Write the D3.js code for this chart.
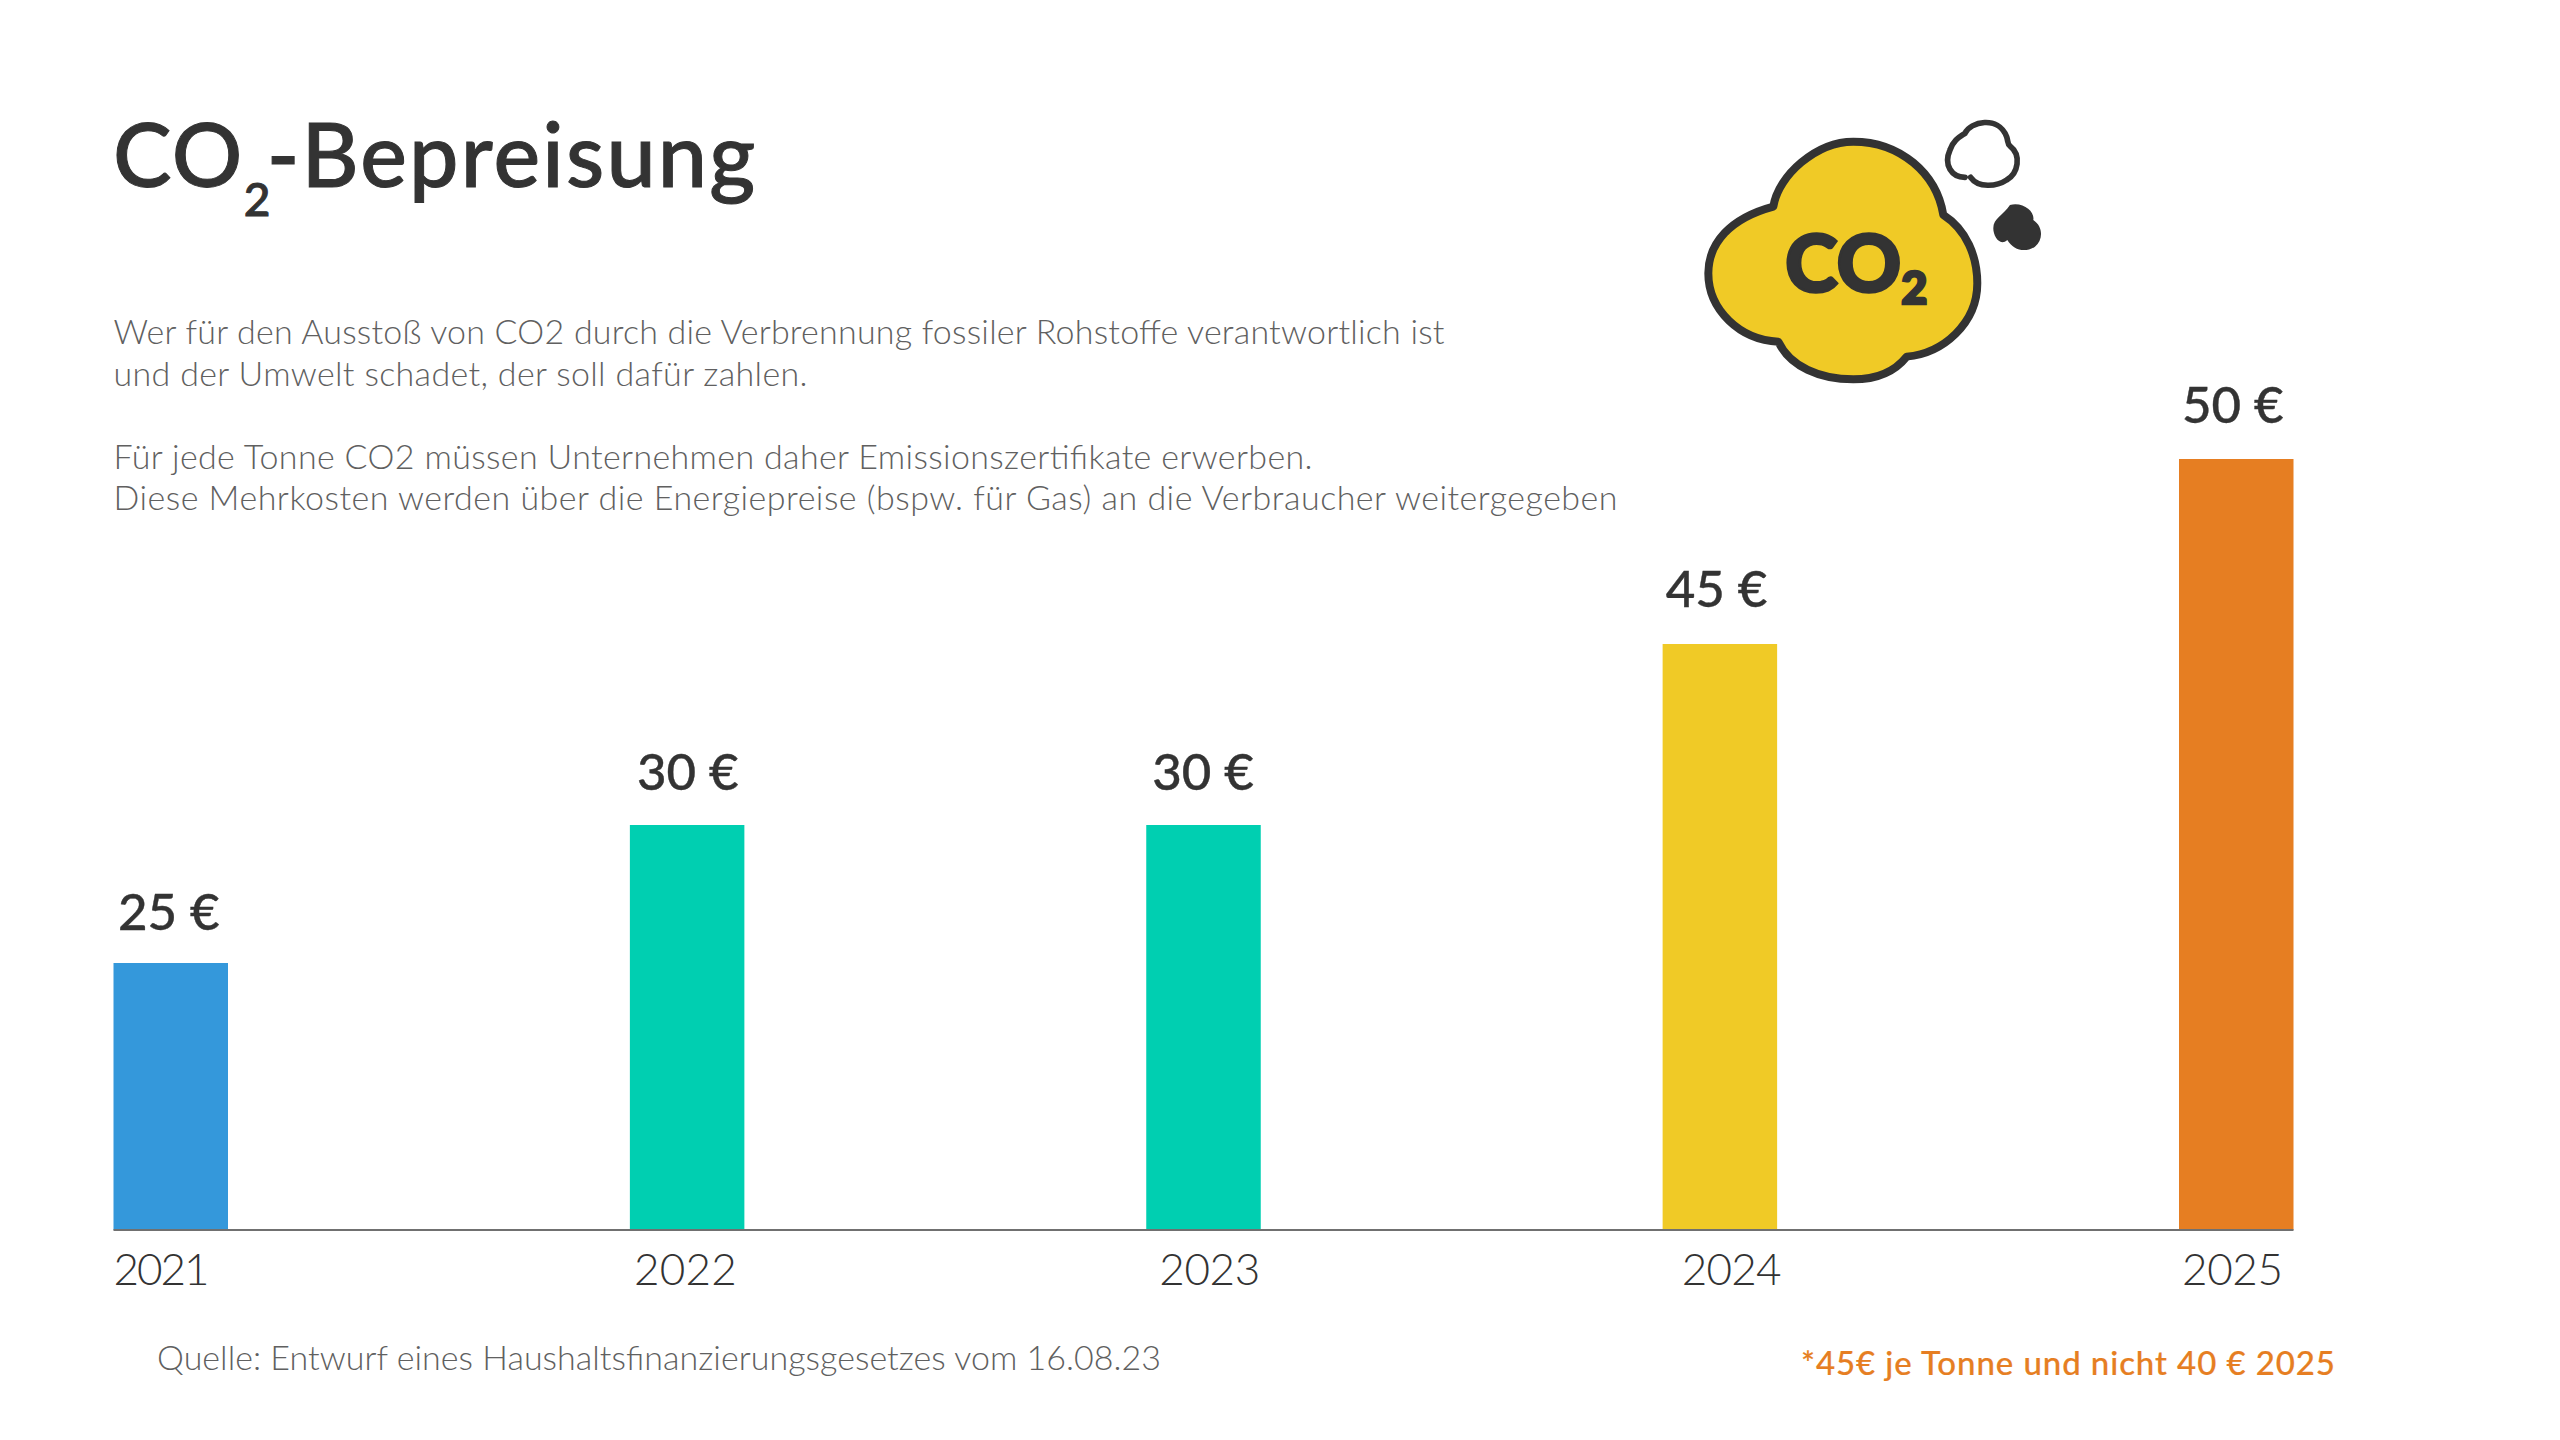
<!DOCTYPE html>
<html>
<head>
<meta charset="utf-8">
<script src="https://d3js.org/d3.v7.min.js"></script>
<style>
  html, body { margin: 0; background: #fff; }
  text { font-family: Lato, sans-serif; }
</style>
</head>
<body>
<div id="chart"></div>
<script>
const years = ["2021", "2022", "2023", "2024", "2025"];
const prices = [25, 30, 30, 45, 50];
const priceLabels = ["25 €", "30 €", "30 €", "45 €", "50 €"];
const barColors = ["#3498db", "#00cfb1", "#00cfb1", "#f0ca26", "#e67e22"];

const introLines = [
  "Wer für den Ausstoß von CO2 durch die Verbrennung fossiler Rohstoffe verantwortlich ist",
  "und der Umwelt schadet, der soll dafür zahlen.",
  "",
  "Für jede Tonne CO2 müssen Unternehmen daher Emissionszertifikate erwerben.",
  "Diese Mehrkosten werden über die Energiepreise (bspw. für Gas) an die Verbraucher weitergegeben"
];
const source = "Quelle: Entwurf eines Haushaltsfinanzierungsgesetzes vom 16.08.23";
const footnote = "*45€ je Tonne und nicht 40 € 2025";

const width = 2560;
const height = 1440;
const dark = "#333333";
const grey = "#606060";

const svg = d3.select("#chart").append("svg")
  .attr("width", width)
  .attr("height", height)
  .attr("viewBox", [0, 0, width, height]);

// the original bars are not to scale, so the y scale has a stop per price
const y = d3.scaleLinear()
  .domain([0, 25, 30, 45, 50])
  .range([1230, 963, 825, 644, 459]);

const x = d3.scalePoint()
  .domain(years)
  .range([113.5, 2179]);

const barWidth = 114.5;

// title
const title = svg.append("text")
  .attr("x", 113)
  .attr("y", 187)
  .attr("fill", dark)
  .attr("stroke", dark)
  .attr("stroke-width", 1)
  .attr("font-size", 88)
  .attr("font-weight", 500)
  .attr("letter-spacing", 1.3);
title.append("tspan").text("CO");
title.append("tspan").attr("font-size", 46).attr("dy", 29).text("2");
title.append("tspan").attr("dy", -29).attr("dx", -5).attr("letter-spacing", 2.2).text("-Bepreisung");

// intro text, original font runs a bit wider so each line is fitted
const introWidths = [1331, 694, 0, 1199, 1504];
svg.append("g")
  .selectAll("text")
  .data(introLines)
  .join("text")
  .attr("x", 113.5)
  .attr("y", (d, i) => 344 + i * 41.6)
  .attr("fill", grey)
  .attr("font-size", 34)
  .attr("font-weight", 300)
  .attr("textLength", (d, i) => introWidths[i] || null)
  .text(d => d);

// bars
svg.append("g")
  .selectAll("rect")
  .data(prices)
  .join("rect")
  .attr("x", (d, i) => x(years[i]))
  .attr("y", d => y(d))
  .attr("width", barWidth)
  .attr("height", d => y(0) - y(d))
  .attr("fill", (d, i) => barColors[i]);

// baseline
svg.append("line")
  .attr("x1", x(years[0]))
  .attr("x2", x(years[4]) + barWidth)
  .attr("y1", y(0))
  .attr("y2", y(0))
  .attr("stroke", "#707070")
  .attr("stroke-width", 2);

// price labels, not quite centred in the original
const labelDx = [4.5, 7, 6, 3, 3];
const labelDy = [33, 35, 35, 37, 36];
svg.append("g")
  .selectAll("text")
  .data(prices)
  .join("text")
  .attr("x", (d, i) => x(years[i]) + labelDx[i])
  .attr("y", (d, i) => y(d) - labelDy[i])
  .attr("fill", dark)
  .attr("stroke", dark)
  .attr("stroke-width", 0.4)
  .attr("font-size", 51)
  .attr("font-weight", 500)
  .text((d, i) => priceLabels[i]);

// year labels
const yearDx = [0, 4, 13, 19, 3];
const yearWidths = [96, 103, 101, 100, 101];
svg.append("g")
  .selectAll("text")
  .data(years)
  .join("text")
  .attr("x", (d, i) => x(d) + yearDx[i])
  .attr("y", 1285)
  .attr("fill", dark)
  .attr("font-size", 44)
  .attr("font-weight", 300)
  .attr("textLength", (d, i) => yearWidths[i])
  .text(d => d);

svg.append("text")
  .attr("x", 157)
  .attr("y", 1370)
  .attr("fill", grey)
  .attr("font-size", 34)
  .attr("font-weight", 300)
  .attr("textLength", 1004)
  .text(source);

svg.append("text")
  .attr("x", 1801)
  .attr("y", 1375)
  .attr("fill", "#e67e22")
  .attr("stroke", "#e67e22")
  .attr("stroke-width", 0.2)
  .attr("font-size", 33)
  .attr("font-weight", 500)
  .attr("textLength", 534)
  .text(footnote);

// cloud icon, local coordinates are 3x page pixels
const icon = svg.append("g")
  .attr("transform", "translate(1650,90) scale(0.3333)");

icon.append("path")
  .attr("d", "M370,350 C385,255 500,155 610,155 C750,155 860,250 880,375 C950,420 982,500 982,580 C982,700 880,790 770,800 C730,850 670,868 610,868 C510,868 420,830 385,755 C270,750 175,660 175,550 C175,460 240,385 370,350 Z")
  .attr("fill", "#f0ca26")
  .attr("stroke", dark)
  .attr("stroke-width", 24)
  .attr("stroke-linejoin", "round");

const iconLabel = icon.append("text")
  .attr("x", 405)
  .attr("y", 605)
  .attr("fill", dark)
  .attr("stroke", dark)
  .attr("stroke-width", 8)
  .attr("font-size", 240)
  .attr("font-weight", 900);
iconLabel.append("tspan").text("CO");
iconLabel.append("tspan").attr("font-size", 135).attr("dy", 37).text("2");

icon.append("path")
  .attr("d", "M945,262 C905,262 880,225 900,180 C910,150 930,140 945,130 C960,95 1045,75 1070,140 C1075,155 1072,162 1080,168 C1115,195 1105,250 1070,270 C1040,290 985,295 962,262")
  .attr("fill", "#fff")
  .attr("stroke", dark)
  .attr("stroke-width", 17)
  .attr("stroke-linecap", "round");

icon.append("path")
  .attr("d", "M1080,345 C1120,335 1155,365 1150,390 C1180,410 1180,450 1155,470 C1125,490 1090,480 1072,450 C1050,470 1030,440 1030,415 C1030,385 1060,375 1080,345 Z")
  .attr("fill", dark);
</script>
</body>
</html>
